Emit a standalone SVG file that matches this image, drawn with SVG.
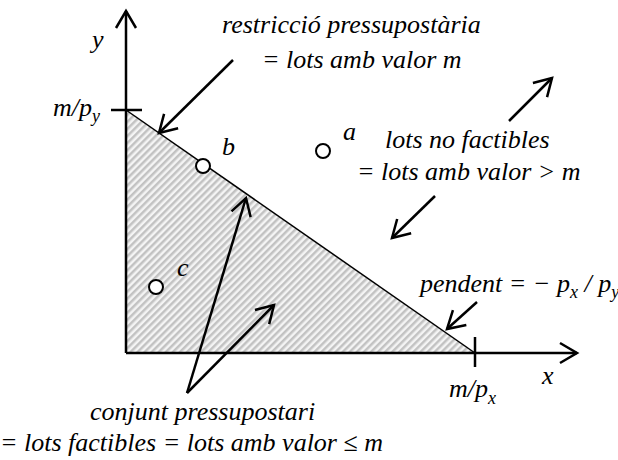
<svg xmlns="http://www.w3.org/2000/svg" width="618" height="460" viewBox="0 0 618 460">
<style>
.ax{stroke:#000;stroke-width:2.5;fill:none}
.arr{stroke:#000;stroke-width:2.5;fill:none;marker-end:url(#ah)}
.pt{fill:#fff;stroke:#000;stroke-width:2}
.sub{font-size:18px}
</style>
<defs>
<marker id="ah" markerUnits="userSpaceOnUse" markerWidth="40" markerHeight="40" refX="0" refY="0" viewBox="-20 -20 40 40" orient="auto" overflow="visible">
<path d="M-17,-10 L0,0 L-17,10" fill="none" stroke="#000" stroke-width="2.5"/>
</marker>
<pattern id="hatch" patternUnits="userSpaceOnUse" width="5" height="5" patternTransform="rotate(45)">
<rect width="5" height="5" fill="#f4f4f4"/>
<rect width="2.5" height="5" fill="#c2c2c2"/>
</pattern>
</defs>
<g id="region">
<polygon points="126,110 126,353 475,353" fill="url(#hatch)"/>
<line x1="126" y1="110" x2="475" y2="353" stroke="#000" stroke-width="1.5"/>
</g>
<g font-family="Liberation Serif, 'Times New Roman', serif" font-style="italic" font-size="26" fill="#000">
<g id="axes">
<line class="ax" x1="126" y1="353" x2="126" y2="11" marker-end="url(#ah)"/>
<line class="ax" x1="126" y1="353" x2="577" y2="353" marker-end="url(#ah)"/>
<line class="ax" x1="111" y1="110" x2="142" y2="110"/>
<line class="ax" x1="475" y1="337" x2="475" y2="367"/>
<text x="92" y="48">y</text>
<text x="542" y="384">x</text>
<text x="53" y="116">m/p<tspan class="sub" dy="6">y</tspan></text>
<text x="449" y="397">m/p<tspan class="sub" dy="7">x</tspan></text>
</g>
<g id="point-a">
<circle class="pt" cx="323" cy="151" r="7"/>
<text x="343" y="140">a</text>
</g>
<g id="point-b">
<circle class="pt" cx="203" cy="166" r="7"/>
<text x="222" y="155">b</text>
</g>
<g id="point-c">
<circle class="pt" cx="156" cy="287" r="7"/>
<text x="177" y="276">c</text>
</g>
<g id="label-restriccio">
<text x="222" y="33">restricció pressupostària</text>
<text x="262" y="68">= lots amb valor m</text>
</g>
<g id="label-nofactibles">
<text x="385" y="148">lots no factibles</text>
<text x="357" y="180">= lots amb valor &gt; m</text>
</g>
<g id="label-pendent">
<text x="420" y="292">pendent = − p<tspan class="sub" dy="6">x</tspan><tspan dy="-6"> / p</tspan><tspan class="sub" dy="6">y</tspan></text>
</g>
<g id="label-conjunt">
<text x="90" y="420">conjunt pressupostari</text>
<text x="0" y="451">= lots factibles = lots amb valor ≤ m</text>
</g>
</g>
<g id="connectors">
<line class="arr" x1="233" y1="60" x2="159" y2="133"/>
<line class="arr" x1="509" y1="121" x2="552" y2="78"/>
<line class="arr" x1="435" y1="196" x2="392" y2="238"/>
<line class="arr" x1="477" y1="302" x2="447" y2="329"/>
<line class="arr" x1="187" y1="393" x2="246" y2="198"/>
<line class="arr" x1="187" y1="393" x2="274" y2="305"/>
</g>
</svg>
